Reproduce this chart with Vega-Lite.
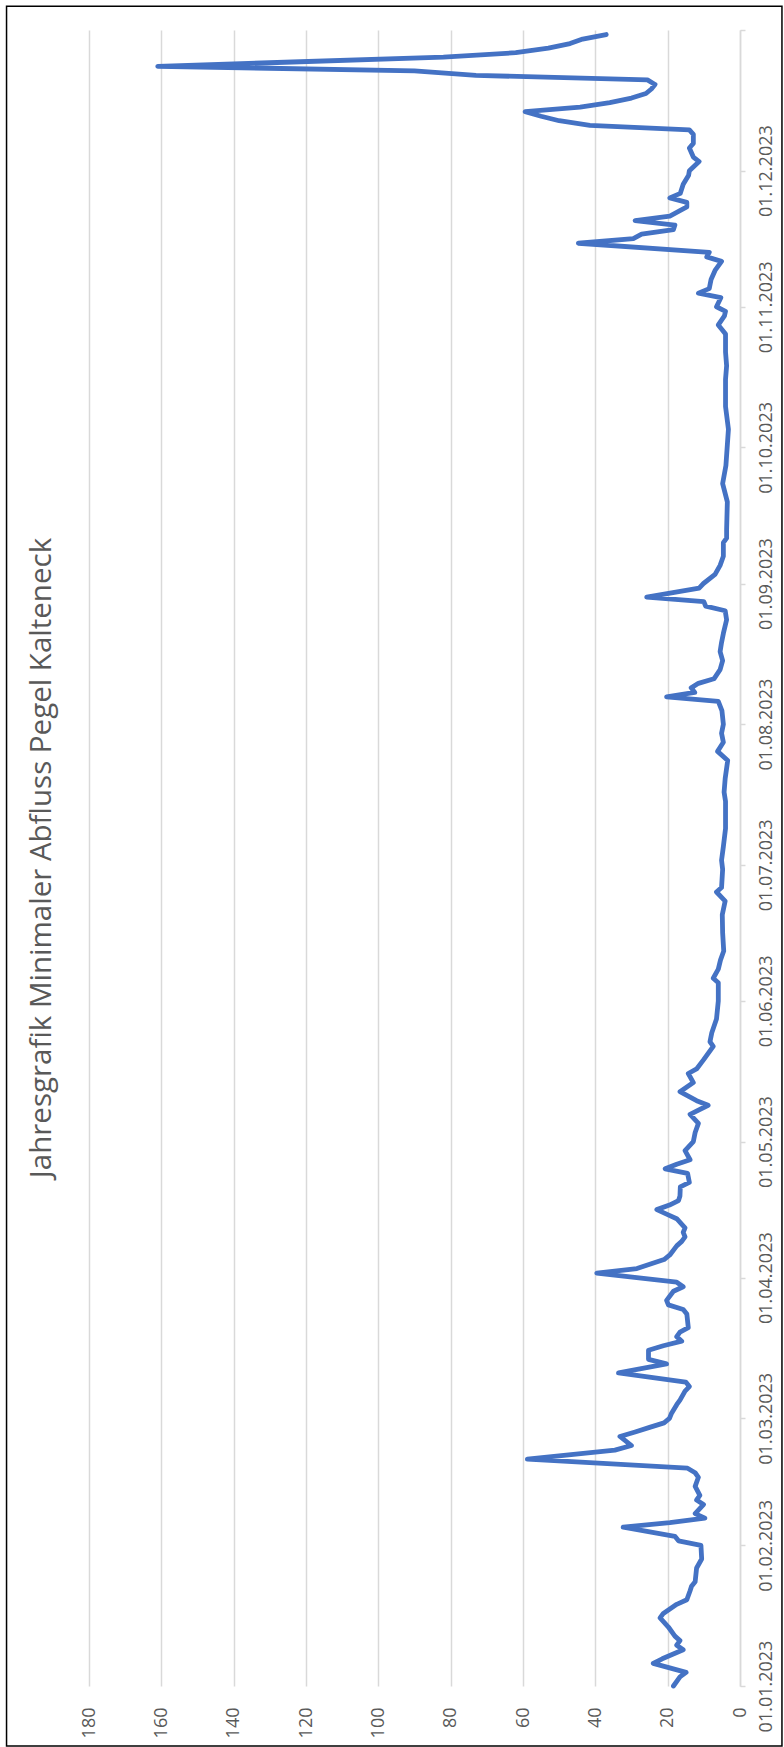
{
  "$schema": "https://vega.github.io/schema/vega-lite/v6.json",
  "width": 651,
  "height": 1656,
  "autosize": {"type": "none"},
  "padding": {"left": 89, "top": 30, "right": 44, "bottom": 61},
  "background": "white",
  "config": {"view": {"stroke": null}, "font": "Open Sans"},
  "title": {
    "text": "Jahresgrafik Minimaler Abfluss Pegel Kalteneck",
    "orient": "left",
    "anchor": "middle",
    "frame": "group",
    "offset": -52,
    "fontSize": 29.5,
    "font": "Open Sans",
    "fontWeight": 400,
    "color": "#595959"
  },
  "layer": [
    {
      "data": {"values": [
        {"Datum": "2023-01-01", "Abfluss": 18.4},
        {"Datum": "2023-01-03", "Abfluss": 16.6},
        {"Datum": "2023-01-04", "Abfluss": 14.9},
        {"Datum": "2023-01-06", "Abfluss": 24.0},
        {"Datum": "2023-01-07", "Abfluss": 21.5},
        {"Datum": "2023-01-09", "Abfluss": 15.7},
        {"Datum": "2023-01-10", "Abfluss": 17.5},
        {"Datum": "2023-01-11", "Abfluss": 16.6},
        {"Datum": "2023-01-12", "Abfluss": 18.0},
        {"Datum": "2023-01-14", "Abfluss": 19.8},
        {"Datum": "2023-01-16", "Abfluss": 22.1},
        {"Datum": "2023-01-17", "Abfluss": 21.2},
        {"Datum": "2023-01-19", "Abfluss": 17.5},
        {"Datum": "2023-01-20", "Abfluss": 14.7},
        {"Datum": "2023-01-22", "Abfluss": 13.8},
        {"Datum": "2023-01-23", "Abfluss": 13.4},
        {"Datum": "2023-01-24", "Abfluss": 12.4},
        {"Datum": "2023-01-27", "Abfluss": 12.0},
        {"Datum": "2023-01-29", "Abfluss": 10.6},
        {"Datum": "2023-02-01", "Abfluss": 10.8},
        {"Datum": "2023-02-02", "Abfluss": 17.0},
        {"Datum": "2023-02-03", "Abfluss": 18.0},
        {"Datum": "2023-02-05", "Abfluss": 32.3},
        {"Datum": "2023-02-06", "Abfluss": 19.4},
        {"Datum": "2023-02-07", "Abfluss": 9.7},
        {"Datum": "2023-02-08", "Abfluss": 12.4},
        {"Datum": "2023-02-10", "Abfluss": 10.1},
        {"Datum": "2023-02-11", "Abfluss": 12.0},
        {"Datum": "2023-02-12", "Abfluss": 11.1},
        {"Datum": "2023-02-14", "Abfluss": 12.4},
        {"Datum": "2023-02-16", "Abfluss": 11.5},
        {"Datum": "2023-02-17", "Abfluss": 12.4},
        {"Datum": "2023-02-18", "Abfluss": 14.5},
        {"Datum": "2023-02-20", "Abfluss": 58.8},
        {"Datum": "2023-02-22", "Abfluss": 34.6},
        {"Datum": "2023-02-23", "Abfluss": 30.0},
        {"Datum": "2023-02-25", "Abfluss": 33.2},
        {"Datum": "2023-02-26", "Abfluss": 29.0},
        {"Datum": "2023-02-27", "Abfluss": 25.0},
        {"Datum": "2023-02-28", "Abfluss": 21.0},
        {"Datum": "2023-03-01", "Abfluss": 19.5},
        {"Datum": "2023-03-02", "Abfluss": 19.0},
        {"Datum": "2023-03-04", "Abfluss": 17.5},
        {"Datum": "2023-03-05", "Abfluss": 16.6},
        {"Datum": "2023-03-07", "Abfluss": 15.2},
        {"Datum": "2023-03-08", "Abfluss": 14.0},
        {"Datum": "2023-03-09", "Abfluss": 15.0},
        {"Datum": "2023-03-11", "Abfluss": 33.6},
        {"Datum": "2023-03-13", "Abfluss": 20.3},
        {"Datum": "2023-03-14", "Abfluss": 25.3},
        {"Datum": "2023-03-16", "Abfluss": 25.3},
        {"Datum": "2023-03-17", "Abfluss": 21.2},
        {"Datum": "2023-03-18", "Abfluss": 16.1},
        {"Datum": "2023-03-19", "Abfluss": 17.5},
        {"Datum": "2023-03-20", "Abfluss": 16.6},
        {"Datum": "2023-03-21", "Abfluss": 14.3},
        {"Datum": "2023-03-24", "Abfluss": 14.7},
        {"Datum": "2023-03-25", "Abfluss": 15.7},
        {"Datum": "2023-03-26", "Abfluss": 19.8},
        {"Datum": "2023-03-27", "Abfluss": 20.3},
        {"Datum": "2023-03-29", "Abfluss": 18.4},
        {"Datum": "2023-03-30", "Abfluss": 15.7},
        {"Datum": "2023-03-31", "Abfluss": 17.5},
        {"Datum": "2023-04-02", "Abfluss": 39.6},
        {"Datum": "2023-04-03", "Abfluss": 28.5},
        {"Datum": "2023-04-05", "Abfluss": 21.0},
        {"Datum": "2023-04-06", "Abfluss": 19.4},
        {"Datum": "2023-04-08", "Abfluss": 17.5},
        {"Datum": "2023-04-09", "Abfluss": 16.1},
        {"Datum": "2023-04-10", "Abfluss": 15.2},
        {"Datum": "2023-04-11", "Abfluss": 15.7},
        {"Datum": "2023-04-12", "Abfluss": 15.2},
        {"Datum": "2023-04-14", "Abfluss": 17.5},
        {"Datum": "2023-04-15", "Abfluss": 20.3},
        {"Datum": "2023-04-16", "Abfluss": 23.0},
        {"Datum": "2023-04-17", "Abfluss": 19.5},
        {"Datum": "2023-04-18", "Abfluss": 17.0},
        {"Datum": "2023-04-19", "Abfluss": 16.6},
        {"Datum": "2023-04-21", "Abfluss": 16.5},
        {"Datum": "2023-04-22", "Abfluss": 14.0},
        {"Datum": "2023-04-24", "Abfluss": 14.5},
        {"Datum": "2023-04-25", "Abfluss": 20.7},
        {"Datum": "2023-04-26", "Abfluss": 17.5},
        {"Datum": "2023-04-27", "Abfluss": 13.8},
        {"Datum": "2023-04-29", "Abfluss": 15.2},
        {"Datum": "2023-05-01", "Abfluss": 12.9},
        {"Datum": "2023-05-03", "Abfluss": 12.4},
        {"Datum": "2023-05-05", "Abfluss": 11.5},
        {"Datum": "2023-05-07", "Abfluss": 13.8},
        {"Datum": "2023-05-09", "Abfluss": 8.8},
        {"Datum": "2023-05-10", "Abfluss": 12.0},
        {"Datum": "2023-05-12", "Abfluss": 16.6},
        {"Datum": "2023-05-14", "Abfluss": 12.9},
        {"Datum": "2023-05-16", "Abfluss": 14.3},
        {"Datum": "2023-05-17", "Abfluss": 12.0},
        {"Datum": "2023-05-19", "Abfluss": 10.1},
        {"Datum": "2023-05-22", "Abfluss": 7.4},
        {"Datum": "2023-05-23", "Abfluss": 8.3},
        {"Datum": "2023-05-25", "Abfluss": 7.8},
        {"Datum": "2023-05-28", "Abfluss": 6.5},
        {"Datum": "2023-06-01", "Abfluss": 6.0},
        {"Datum": "2023-06-05", "Abfluss": 6.0},
        {"Datum": "2023-06-06", "Abfluss": 7.4},
        {"Datum": "2023-06-08", "Abfluss": 6.0},
        {"Datum": "2023-06-10", "Abfluss": 5.4},
        {"Datum": "2023-06-12", "Abfluss": 4.5},
        {"Datum": "2023-06-16", "Abfluss": 4.8},
        {"Datum": "2023-06-20", "Abfluss": 4.9},
        {"Datum": "2023-06-23", "Abfluss": 4.1},
        {"Datum": "2023-06-25", "Abfluss": 6.5},
        {"Datum": "2023-06-26", "Abfluss": 5.1},
        {"Datum": "2023-06-30", "Abfluss": 4.8},
        {"Datum": "2023-07-02", "Abfluss": 5.1},
        {"Datum": "2023-07-05", "Abfluss": 4.6},
        {"Datum": "2023-07-09", "Abfluss": 4.0},
        {"Datum": "2023-07-15", "Abfluss": 4.0},
        {"Datum": "2023-07-17", "Abfluss": 4.4},
        {"Datum": "2023-07-20", "Abfluss": 4.1},
        {"Datum": "2023-07-24", "Abfluss": 3.4},
        {"Datum": "2023-07-26", "Abfluss": 6.2},
        {"Datum": "2023-07-28", "Abfluss": 4.6},
        {"Datum": "2023-07-30", "Abfluss": 5.1},
        {"Datum": "2023-08-01", "Abfluss": 4.6},
        {"Datum": "2023-08-04", "Abfluss": 5.0},
        {"Datum": "2023-08-06", "Abfluss": 6.0},
        {"Datum": "2023-08-07", "Abfluss": 20.3},
        {"Datum": "2023-08-08", "Abfluss": 12.5},
        {"Datum": "2023-08-09", "Abfluss": 13.5},
        {"Datum": "2023-08-10", "Abfluss": 11.5},
        {"Datum": "2023-08-11", "Abfluss": 7.2},
        {"Datum": "2023-08-13", "Abfluss": 5.5},
        {"Datum": "2023-08-15", "Abfluss": 4.8},
        {"Datum": "2023-08-17", "Abfluss": 5.5},
        {"Datum": "2023-08-19", "Abfluss": 5.1},
        {"Datum": "2023-08-21", "Abfluss": 4.6},
        {"Datum": "2023-08-24", "Abfluss": 3.7},
        {"Datum": "2023-08-26", "Abfluss": 4.1},
        {"Datum": "2023-08-27", "Abfluss": 9.5},
        {"Datum": "2023-08-28", "Abfluss": 10.0},
        {"Datum": "2023-08-29", "Abfluss": 25.8},
        {"Datum": "2023-08-31", "Abfluss": 11.3},
        {"Datum": "2023-09-01", "Abfluss": 10.1},
        {"Datum": "2023-09-03", "Abfluss": 6.9},
        {"Datum": "2023-09-05", "Abfluss": 5.5},
        {"Datum": "2023-09-07", "Abfluss": 4.6},
        {"Datum": "2023-09-10", "Abfluss": 4.6},
        {"Datum": "2023-09-11", "Abfluss": 3.7},
        {"Datum": "2023-09-13", "Abfluss": 3.7},
        {"Datum": "2023-09-19", "Abfluss": 3.5},
        {"Datum": "2023-09-23", "Abfluss": 4.8},
        {"Datum": "2023-09-27", "Abfluss": 3.9},
        {"Datum": "2023-10-05", "Abfluss": 3.2},
        {"Datum": "2023-10-10", "Abfluss": 4.0},
        {"Datum": "2023-10-16", "Abfluss": 4.0},
        {"Datum": "2023-10-19", "Abfluss": 3.7},
        {"Datum": "2023-10-22", "Abfluss": 4.0},
        {"Datum": "2023-10-26", "Abfluss": 4.0},
        {"Datum": "2023-10-27", "Abfluss": 5.0},
        {"Datum": "2023-10-28", "Abfluss": 6.0},
        {"Datum": "2023-10-30", "Abfluss": 4.3},
        {"Datum": "2023-10-31", "Abfluss": 4.0},
        {"Datum": "2023-11-01", "Abfluss": 6.5},
        {"Datum": "2023-11-03", "Abfluss": 5.3},
        {"Datum": "2023-11-04", "Abfluss": 11.5},
        {"Datum": "2023-11-05", "Abfluss": 8.5},
        {"Datum": "2023-11-07", "Abfluss": 8.0},
        {"Datum": "2023-11-09", "Abfluss": 6.9},
        {"Datum": "2023-11-11", "Abfluss": 5.1},
        {"Datum": "2023-11-12", "Abfluss": 9.2},
        {"Datum": "2023-11-13", "Abfluss": 8.5},
        {"Datum": "2023-11-15", "Abfluss": 44.7},
        {"Datum": "2023-11-16", "Abfluss": 29.5},
        {"Datum": "2023-11-17", "Abfluss": 27.2},
        {"Datum": "2023-11-18", "Abfluss": 18.4},
        {"Datum": "2023-11-19", "Abfluss": 18.0},
        {"Datum": "2023-11-20", "Abfluss": 29.0},
        {"Datum": "2023-11-21", "Abfluss": 19.4},
        {"Datum": "2023-11-23", "Abfluss": 14.7},
        {"Datum": "2023-11-24", "Abfluss": 14.7},
        {"Datum": "2023-11-25", "Abfluss": 19.4},
        {"Datum": "2023-11-26", "Abfluss": 16.5},
        {"Datum": "2023-11-28", "Abfluss": 15.7},
        {"Datum": "2023-11-30", "Abfluss": 14.2},
        {"Datum": "2023-12-01", "Abfluss": 14.0},
        {"Datum": "2023-12-03", "Abfluss": 11.3},
        {"Datum": "2023-12-04", "Abfluss": 12.9},
        {"Datum": "2023-12-06", "Abfluss": 14.0},
        {"Datum": "2023-12-07", "Abfluss": 12.9},
        {"Datum": "2023-12-09", "Abfluss": 12.9},
        {"Datum": "2023-12-10", "Abfluss": 14.0},
        {"Datum": "2023-12-11", "Abfluss": 41.5},
        {"Datum": "2023-12-12", "Abfluss": 50.0},
        {"Datum": "2023-12-13", "Abfluss": 55.0},
        {"Datum": "2023-12-14", "Abfluss": 59.4},
        {"Datum": "2023-12-15", "Abfluss": 44.2},
        {"Datum": "2023-12-16", "Abfluss": 36.0},
        {"Datum": "2023-12-17", "Abfluss": 30.0},
        {"Datum": "2023-12-18", "Abfluss": 26.0},
        {"Datum": "2023-12-19", "Abfluss": 24.5},
        {"Datum": "2023-12-20", "Abfluss": 23.5},
        {"Datum": "2023-12-21", "Abfluss": 25.6},
        {"Datum": "2023-12-22", "Abfluss": 73.0},
        {"Datum": "2023-12-23", "Abfluss": 90.0},
        {"Datum": "2023-12-24", "Abfluss": 161.0},
        {"Datum": "2023-12-25", "Abfluss": 121.6},
        {"Datum": "2023-12-26", "Abfluss": 82.0},
        {"Datum": "2023-12-27", "Abfluss": 62.0},
        {"Datum": "2023-12-28", "Abfluss": 53.0},
        {"Datum": "2023-12-29", "Abfluss": 47.0},
        {"Datum": "2023-12-30", "Abfluss": 43.5},
        {"Datum": "2023-12-31", "Abfluss": 37.0}
      ]},
      "mark": {"type": "line", "color": "#4472C4", "strokeWidth": 4.8, "strokeJoin": "round", "strokeCap": "round"},
      "encoding": {
        "y": {
          "field": "Datum",
          "type": "temporal",
          "scale": {
            "type": "utc",
            "domain": [
              {"year": 2023, "month": 1, "date": 1, "utc": true},
              {"year": 2024, "month": 1, "date": 1, "utc": true}
            ]
          },
          "axis": {
            "orient": "right",
            "title": null,
            "grid": false,
            "values": [
              {"year": 2023, "month": 1, "date": 1, "utc": true},
              {"year": 2023, "month": 2, "date": 1, "utc": true},
              {"year": 2023, "month": 3, "date": 1, "utc": true},
              {"year": 2023, "month": 4, "date": 1, "utc": true},
              {"year": 2023, "month": 5, "date": 1, "utc": true},
              {"year": 2023, "month": 6, "date": 1, "utc": true},
              {"year": 2023, "month": 7, "date": 1, "utc": true},
              {"year": 2023, "month": 8, "date": 1, "utc": true},
              {"year": 2023, "month": 9, "date": 1, "utc": true},
              {"year": 2023, "month": 10, "date": 1, "utc": true},
              {"year": 2023, "month": 11, "date": 1, "utc": true},
              {"year": 2023, "month": 12, "date": 1, "utc": true},
              {"year": 2024, "month": 1, "date": 1, "utc": true}
            ],
            "format": "%d.%m.%Y",
            "labelExpr": "utcyear(datum.value) >= 2024 ? '' : datum.label",
            "labelAngle": 270,
            "labelAlign": "center",
            "labelBaseline": "top",
            "labelPadding": 12,
            "labelOverlap": false,
            "labelBound": false,
            "labelFlush": false,
            "labelFont": "Open Sans",
            "labelFontSize": 18,
            "labelColor": "#595959",
            "domainColor": "#d9d9d9",
            "domainWidth": 1.5,
            "tickColor": "#d9d9d9",
            "tickWidth": 1.5,
            "tickSize": 5
          }
        },
        "x": {
          "field": "Abfluss",
          "type": "quantitative",
          "scale": {"domain": [0, 180], "reverse": true, "nice": false, "zero": true},
          "axis": {
            "orient": "bottom",
            "title": null,
            "values": [0, 20, 40, 60, 80, 100, 120, 140, 160, 180],
            "grid": true,
            "gridColor": "#d9d9d9",
            "gridWidth": 1.5,
            "domain": false,
            "ticks": false,
            "labelAngle": 270,
            "labelAlign": "right",
            "labelBaseline": "middle",
            "labelPadding": 21,
            "labelFlush": false,
            "labelOverlap": false,
            "labelBound": false,
            "labelFont": "Open Sans",
            "labelFontSize": 18,
            "labelColor": "#595959"
          }
        },
        "order": {"field": "Datum", "type": "temporal"}
      }
    },
    {
      "data": {"values": [{"Rahmen": "Diagramm"}]},
      "mark": {"type": "rect", "filled": false, "stroke": "#000000", "strokeWidth": 1.5, "clip": false},
      "encoding": {
        "x": {"datum": 202.8, "type": "quantitative"},
        "x2": {"datum": -11.6},
        "y": {"datum": {"year": 2024, "month": 1, "date": 6, "hours": 5, "utc": true}, "type": "temporal"},
        "y2": {"datum": {"year": 2022, "month": 12, "date": 18, "hours": 19, "utc": true}}
      }
    }
  ]
}
